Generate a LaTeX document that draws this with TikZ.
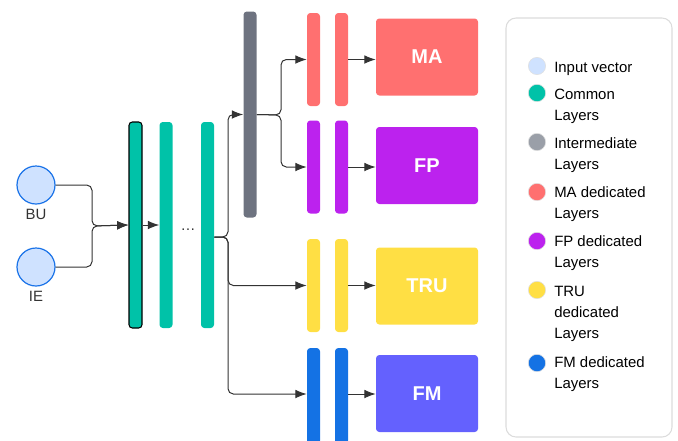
\documentclass[tikz,border=0pt]{standalone}
\usepackage{fontspec}
\setmainfont{Liberation Sans}
\usetikzlibrary{arrows.meta}
\definecolor{inblue}{HTML}{CFE2FF}
\definecolor{inedge}{HTML}{1A73E8}
\definecolor{comgreen}{HTML}{00C2A8}
\definecolor{midgray}{HTML}{6E7380}
\definecolor{keygray}{HTML}{9A9FA8}
\definecolor{mared}{HTML}{FF7070}
\definecolor{fppurple}{HTML}{BC22EE}
\definecolor{truyellow}{HTML}{FFDF44}
\definecolor{fmblue}{HTML}{1472E4}
\definecolor{fmbox}{HTML}{6461FE}
\definecolor{keyframe}{HTML}{DCDCDC}
\begin{document}
\begin{tikzpicture}[x=0.75pt,y=-0.75pt,
inp/.style ={circle, draw=inedge, fill=inblue, line width=0.9pt,
  minimum size=28.5pt, inner sep=0pt
},
bar/.style ={rectangle, rounded corners=2.5pt, inner sep=0pt,
  minimum width=9.75pt
},
common/.style ={bar, fill=comgreen, minimum height=154.5pt},
inter/.style ={bar, fill=midgray, minimum height=154.5pt},
ded/.style ={bar, fill=#1, minimum height=69.75pt},
head/.style ={rectangle, rounded corners=2.5pt, fill=#1, text=white,
  minimum width=76.5pt, minimum height=57.75pt,
  font=\fontsize{15}{18}\selectfont\bfseries
},
keydot/.style ={circle, fill=#1, draw=black!12, minimum size=13pt, inner sep=0pt},
keytext/.style ={anchor=base west, inner sep=0pt, align=left,
  font=\fontsize{11.2}{15.75}\selectfont
},
lbl/.style ={inner sep=0pt, text=black!80, font=\fontsize{11.2}{13}\selectfont},
arr/.style ={-{Latex[length=8.5pt,width=6.5pt]}, line width=0.75pt,
  draw=black!80, rounded corners=4pt
}]
\useasboundingbox (0,0) rectangle (678,440);
\clip (0,0) rectangle (678,440);
\node (bu) at (36,185) [inp] {};
\node (ie) at (36,267) [inp] {};
\node (bul) at (36,214) [lbl] {BU};
\node (iel) at (36,296) [lbl] {IE};
\node (c1) at (135.5,225) [common, draw=black, line width=0.8pt] {};
\node (c2) at (166,225) [common] {};
\node (dots) at (188,230) [lbl] {\dots};
\node (c3) at (207.5,225) [common] {};
\node (im) at (250,114.5) [inter] {};
\node (r1) at (313.5,59.5) [ded=mared] {};
\node (r2) at (341.5,59.5) [ded=mared] {};
\node (p1) at (313.5,167) [ded=fppurple] {};
\node (p2) at (341.5,167) [ded=fppurple] {};
\node (y1) at (313.5,285.5) [ded=truyellow] {};
\node (y2) at (341.5,285.5) [ded=truyellow] {};
\node (b1) at (313.5,396) [ded=fmblue, minimum height=72pt] {};
\node (b2) at (341.5,396) [ded=fmblue, minimum height=72pt] {};
\node (ma) at (427,57) [head=mared] {MA};
\node (fp) at (427,165.5) [head=fppurple] {FP};
\node (tru) at (427,286) [head=truyellow] {TRU};
\node (fm) at (427,393.5) [head=fmbox] {FM};
\coordinate (j1) at (92,226);
\coordinate (k3) at (228,237);
\coordinate (k4) at (281,115);
\draw[arr] (bu.east) -| (j1) -- (c1.west);
\draw[arr] (ie.east) -| (j1) -- (c1.west);
\draw[arr] (c1.east) -- (c2.west);
\draw[arr] (c3.east |- k3) -- (k3) |- (im.west);
\draw[arr] (c3.east |- k3) -- (k3) |- (y1.west);
\draw[arr] (c3.east |- k3) -- (k3) |- (b1.west |- 0,394);
\draw[arr] (im.east) -- (k4) |- (r1.west);
\draw[arr] (im.east) -- (k4) |- (p1.west);
\draw[arr] (r2.east) -- (r2.east -| ma.west);
\draw[arr] (p2.east) -- (p2.east -| fp.west);
\draw[arr] (y2.east) -- (y2.east -| tru.west);
\draw[arr] (b2.east |- 0,394) -- (fm.west |- 0,394);
\draw[keyframe, line width=0.8pt, rounded corners=7.5pt] (506,18) rectangle (672,437);
\node (kin) at (537,66) [keydot=inblue] {};
\node (kcom) at (537,93) [keydot=comgreen] {};
\node (kmid) at (537,142) [keydot=keygray] {};
\node (kma) at (537,192) [keydot=mared] {};
\node (kfp) at (537,241) [keydot=fppurple] {};
\node (ktru) at (537,290) [keydot=truyellow] {};
\node (kfm) at (537,363) [keydot=fmblue] {};
\node (tin) at (554,72) [keytext] {Input vector};
\node (tcom) at (554,120) [keytext] {Common\\Layers};
\node (tmid) at (554,169) [keytext] {Intermediate\\Layers};
\node (tma) at (554,218) [keytext] {MA dedicated\\Layers};
\node (tfp) at (554,267) [keytext] {FP dedicated\\Layers};
\node (ttru) at (554,338) [keytext] {TRU\\dedicated\\Layers};
\node (tfm) at (554,388) [keytext] {FM dedicated\\Layers};
\end{tikzpicture}
\end{document}
